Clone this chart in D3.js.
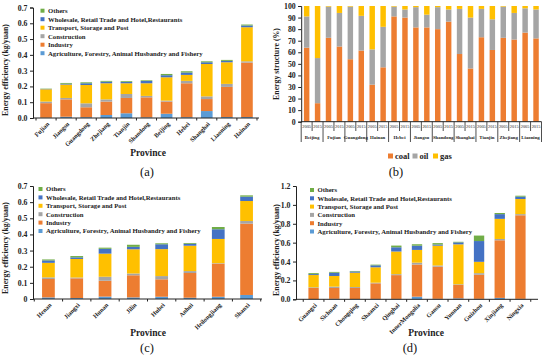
<!DOCTYPE html>
<html><head><meta charset="utf-8">
<script src="https://cdn.jsdelivr.net/npm/d3@7"></script>
<style>body{margin:0;background:#fff}svg{display:block}text{font-family:"Liberation Serif","Times New Roman",serif}</style>
</head><body>
<script>
// ---------- DATA ----------
const sectorNames = ["Agriculture, Forestry, Animal Husbandry and Fishery","Industry","Construction","Transport, Storage and Post","Wholesale, Retail Trade and Hotel,Restaurants","Others"];
const sectorColors = ["#5B9BD5","#ED7D31","#A5A5A5","#FFC000","#4472C4","#70AD47"];

const provincesA = ["Fujian","Jiangsu","Guangdong","Zhejiang","Tianjin","Shandong","Beijing","Hebei","Shanghai","Liaoning","Hainan"];
const agriA = [0.002,0.008,0.005,0.019,0.030,0.004,0.027,0.005,0.044,0.006,0.006];
const industryA = [0.092,0.110,0.063,0.085,0.097,0.127,0.077,0.215,0.076,0.191,0.345];
const constructionA = [0.010,0.009,0.025,0.014,0.025,0.009,0.006,0.015,0.017,0.019,0.008];
const transportA = [0.078,0.085,0.116,0.102,0.068,0.080,0.148,0.038,0.205,0.137,0.216];
const wholesaleA = [0.002,0.005,0.011,0.010,0.008,0.015,0.013,0.015,0.011,0.009,0.011];
const othersA = [0.002,0.005,0.006,0.005,0.005,0.004,0.008,0.008,0.006,0.006,0.006];
const ticksA = [0,0.1,0.2,0.3,0.4,0.5,0.6,0.7];

const provincesB = ["Beijing","Fujian","Guangdong","Hainan","Hebei","Jiangsu","Shandong","Shanghai","Tianjin","Zhejiang","Liaoning"];
const yearsB = ["2005","2015"];
const coalB = [64,16, 72.5,65, 54,61.5, 32,47, 91,90, 81.5,81.5, 80,86.5, 58.5,46, 73,62, 72.5,71, 77,72];
const oilB  = [27,39, 27,29, 45.5,30, 30.5,35, 8.5,7, 17.5,11, 19,10.5, 39,44, 24.5,26.5, 27,23, 21,25];
const gasB  = [9,45, 0.5,6, 0.5,8.5, 37.5,18, 0.5,3, 1,7.5, 1,3, 2.5,10, 2.5,11.5, 0.5,6, 2,3];
const energyNames = ["coal","oil","gas"];
const energyColors = ["#ED7D31","#A5A5A5","#FFC000"];
const ticksB = [0,10,20,30,40,50,60,70,80,90,100];

const provincesC = ["Henan","Jiangxi","Hunan","Jilin","Hubei","Anhui","Heilongjiang","Shanxi"];
const agriC = [0.010,0.006,0.015,0.010,0.014,0.008,0.014,0.025];
const industryC = [0.114,0.122,0.098,0.137,0.108,0.153,0.205,0.442];
const constructionC = [0.010,0.005,0.025,0.011,0.020,0.012,0.003,0.016];
const transportC = [0.090,0.115,0.143,0.150,0.167,0.157,0.150,0.124];
const wholesaleC = [0.015,0.010,0.030,0.015,0.030,0.012,0.060,0.027];
const othersC = [0.006,0.008,0.007,0.013,0.006,0.005,0.014,0.008];
const ticksC = [0,0.1,0.2,0.3,0.4,0.5,0.6,0.7];

const provincesD = ["Guangxi","Sichuan","Chongqing","Shaanxi","Qinghai","InnerMongolia","Gansu","Yunnan","Guizhou","Xinjiang","Ningxia"];
const agriD = [0.003,0.005,0.003,0.004,0.004,0.028,0.005,0.010,0.005,0.015,0.005];
const industryD = [0.117,0.115,0.117,0.165,0.252,0.340,0.340,0.142,0.255,0.610,0.885];
const constructionD = [0.007,0.014,0.010,0.007,0.010,0.020,0.013,0.007,0.017,0.014,0.012];
const transportD = [0.130,0.113,0.152,0.163,0.240,0.135,0.210,0.423,0.120,0.213,0.160];
const wholesaleD = [0.010,0.035,0.013,0.021,0.045,0.045,0.012,0.021,0.220,0.050,0.025];
const othersD = [0.010,0.008,0.005,0.007,0.018,0.015,0.015,0.006,0.058,0.012,0.010];
const ticksD = [0,0.2,0.4,0.6,0.8,1.0,1.2];

// ---------- DRAW ----------
const svg = d3.select("body").append("svg").attr("width",550).attr("height",359);
svg.append("rect").attr("width",550).attr("height",359).attr("fill","#fff");
const AX = "#222";

function drawStacked(c){
  const g = svg.append("g");
  const keys = sectorNames;
  const rows = c.cats.map((cat,i)=>{const o={cat}; keys.forEach((k,j)=>o[k]=c.series[j][i]); return o;});
  const stacked = d3.stack().keys(keys)(rows);
  const x = d3.scaleBand().domain(c.cats).range([c.left,c.right]).paddingInner(c.pi).paddingOuter(c.po);
  const y = d3.scaleLinear().domain([0,c.yMax]).range([c.bottom,c.top]);
  const color = d3.scaleOrdinal().domain(keys).range(sectorColors);
  g.selectAll("g.s").data(stacked).join("g").attr("fill",d=>color(d.key))
    .selectAll("rect").data(d=>d).join("rect")
    .attr("x",d=>x(d.data.cat)).attr("width",x.bandwidth())
    .attr("y",d=>y(d[1])).attr("height",d=>Math.max(0,y(d[0])-y(d[1])));
  // y axis
  const ya = g.append("g").attr("transform",`translate(${c.left},0)`)
    .call(d3.axisLeft(y).tickValues(c.ticks).tickFormat(c.fmt).tickSize(3).tickPadding(2.5));
  ya.selectAll("path,line").attr("stroke",AX);
  ya.selectAll("text").attr("font-size",7.8).attr("font-weight","bold").attr("fill","#222")
    .style("font-family","'Liberation Serif',serif");
  // x axis line
  g.append("line").attr("x1",c.left).attr("x2",c.axisEnd).attr("y1",c.bottom).attr("y2",c.bottom).attr("stroke",AX);
  const step = x.step();
  const bounds = d3.range(c.cats.length+1).map(i=>x(c.cats[0]) + x.bandwidth()/2 - step/2 + i*step);
  g.selectAll("line.xt").data(bounds).join("line").attr("x1",d=>d).attr("x2",d=>d)
    .attr("y1",c.bottom).attr("y2",c.bottom+2.5).attr("stroke",AX);
  g.selectAll("text.cl").data(c.cats).join("text")
    .attr("transform",d=>`translate(${x(d)+x.bandwidth()/2+2},${c.bottom+5}) rotate(-45)`)
    .attr("text-anchor","end").attr("dy","0.35em").attr("font-size",6.3).attr("font-weight","bold").attr("fill","#222").text(d=>d);
  // legend
  const lg = g.append("g");
  const order = keys.slice().reverse();
  order.forEach((k,i)=>{
    const yy = c.legY + i*c.legDy;
    lg.append("rect").attr("x",c.legX).attr("y",yy-2).attr("width",4).attr("height",4).attr("fill",color(k));
    lg.append("text").attr("x",c.legX+7.5).attr("y",yy).attr("dy","0.35em").attr("font-size",6.7).attr("font-weight","bold").attr("fill","#222").text(k);
  });
  // titles
  g.append("text").attr("transform",`translate(${c.ytX},${c.ytY}) rotate(-90)`).attr("text-anchor","middle")
    .attr("font-size",7.8).attr("font-weight","bold").attr("fill","#222").text("Energy efficiency (kg/yuan)");
  g.append("text").attr("x",c.provX).attr("y",c.provY).attr("text-anchor","middle")
    .attr("font-size",9.5).attr("font-weight","bold").attr("fill","#222").text("Province");
  g.append("text").attr("x",c.tagX).attr("y",c.tagY).attr("text-anchor","middle")
    .attr("font-size",12.5).attr("fill","#111").text(c.tag);
}

drawStacked({cats:provincesA, series:[agriA,industryA,constructionA,transportA,wholesaleA,othersA],
  left:33, right:260, axisEnd:259, top:7.5, bottom:118, yMax:0.7, ticks:ticksA, fmt:d3.format(".1f"),
  pi:0.42, po:0.36, legX:40.5, legY:10.7, legDy:8.5, ytX:8, ytY:70, provX:148, provY:156, tagX:147, tagY:176, tag:"(a)"});

drawStacked({cats:provincesC, series:[agriC,industryC,constructionC,transportC,wholesaleC,othersC],
  left:33, right:262, axisEnd:262, top:186, bottom:299, yMax:0.7, ticks:ticksC, fmt:d=>d===0?"0":d3.format(".1f")(d),
  pi:0.55, po:0.32, legX:38.5, legY:189, legDy:8.4, ytX:8, ytY:248, provX:148, provY:336, tagX:147, tagY:352, tag:"(c)"});

drawStacked({cats:provincesD, series:[agriD,industryD,constructionD,transportD,wholesaleD,othersD],
  left:296, right:538, axisEnd:538, top:186, bottom:299.3, yMax:1.2, ticks:ticksD, fmt:d3.format(".1f"),
  pi:0.5, po:0.6, legX:310, legY:190, legDy:8.3, ytX:279, ytY:250, provX:426, provY:336, tagX:410, tagY:352, tag:"(d)"});

// ---------- Panel B ----------
(function(){
  const g = svg.append("g");
  const left=301.2, right=541.5, top=6, bottom=121.7;
  const cats = [];
  provincesB.forEach(p=>yearsB.forEach(yr=>cats.push(p+"|"+yr)));
  const rows = cats.map((cat,i)=>({cat, coal:coalB[i], oil:oilB[i], gas:gasB[i]}));
  const stacked = d3.stack().keys(energyNames)(rows);
  const x = d3.scaleBand().domain(cats).range([left,right]).paddingInner(0.5).paddingOuter(0.25);
  const y = d3.scaleLinear().domain([0,100]).range([bottom,top]);
  const color = d3.scaleOrdinal().domain(energyNames).range(energyColors);
  g.selectAll("g.s").data(stacked).join("g").attr("fill",d=>color(d.key))
    .selectAll("rect").data(d=>d).join("rect")
    .attr("x",d=>x(d.data.cat)).attr("width",x.bandwidth())
    .attr("y",d=>y(d[1])).attr("height",d=>Math.max(0,y(d[0])-y(d[1])));
  const ya = g.append("g").attr("transform",`translate(${left},0)`)
    .call(d3.axisLeft(y).tickValues(ticksB).tickSize(3).tickPadding(2.5));
  ya.selectAll("path,line").attr("stroke",AX);
  ya.selectAll("text").attr("font-size",7.8).attr("font-weight","bold").attr("fill","#222");
  g.append("line").attr("x1",left).attr("x2",right).attr("y1",bottom).attr("y2",bottom).attr("stroke",AX);
  const step = x.step();
  const bounds = d3.range(cats.length+1).map(i=>({x:x(cats[0])+x.bandwidth()/2-step/2+i*step, grp:i%2===0}));
  g.selectAll("line.b").data(bounds).join("line").attr("x1",d=>d.x).attr("x2",d=>d.x)
    .attr("y1",bottom).attr("y2",d=>d.grp?142:131).attr("stroke",AX).attr("stroke-width",0.8);
  g.selectAll("text.yr").data(cats).join("text").attr("x",d=>x(d)+x.bandwidth()/2).attr("y",128.3)
    .attr("text-anchor","middle").attr("font-size",4.4).attr("fill","#222").text(d=>d.split("|")[1]);
  g.selectAll("text.pr").data(provincesB).join("text")
    .attr("x",p=>(x(p+"|2005")+x(p+"|2015")+x.bandwidth())/2).attr("y",139)
    .attr("text-anchor","middle").attr("font-size",4.8).attr("font-weight","bold").attr("fill","#222").text(p=>p);
  g.append("text").attr("transform",`translate(279,64) rotate(-90)`).attr("text-anchor","middle")
    .attr("font-size",7.8).attr("font-weight","bold").attr("fill","#222").text("Energy structure (%)");
  const lx = [388,412.5,433];
  energyNames.forEach((k,i)=>{
    g.append("rect").attr("x",lx[i]).attr("y",153.5).attr("width",5).attr("height",5).attr("fill",color(k));
    g.append("text").attr("x",lx[i]+7).attr("y",156).attr("dy","0.35em").attr("font-size",8.5).attr("font-weight","bold").attr("fill","#222").text(k);
  });
  g.append("text").attr("x",396).attr("y",176).attr("text-anchor","middle").attr("font-size",12.5).attr("fill","#111").text("(b)");
})();
</script>
</body></html>
